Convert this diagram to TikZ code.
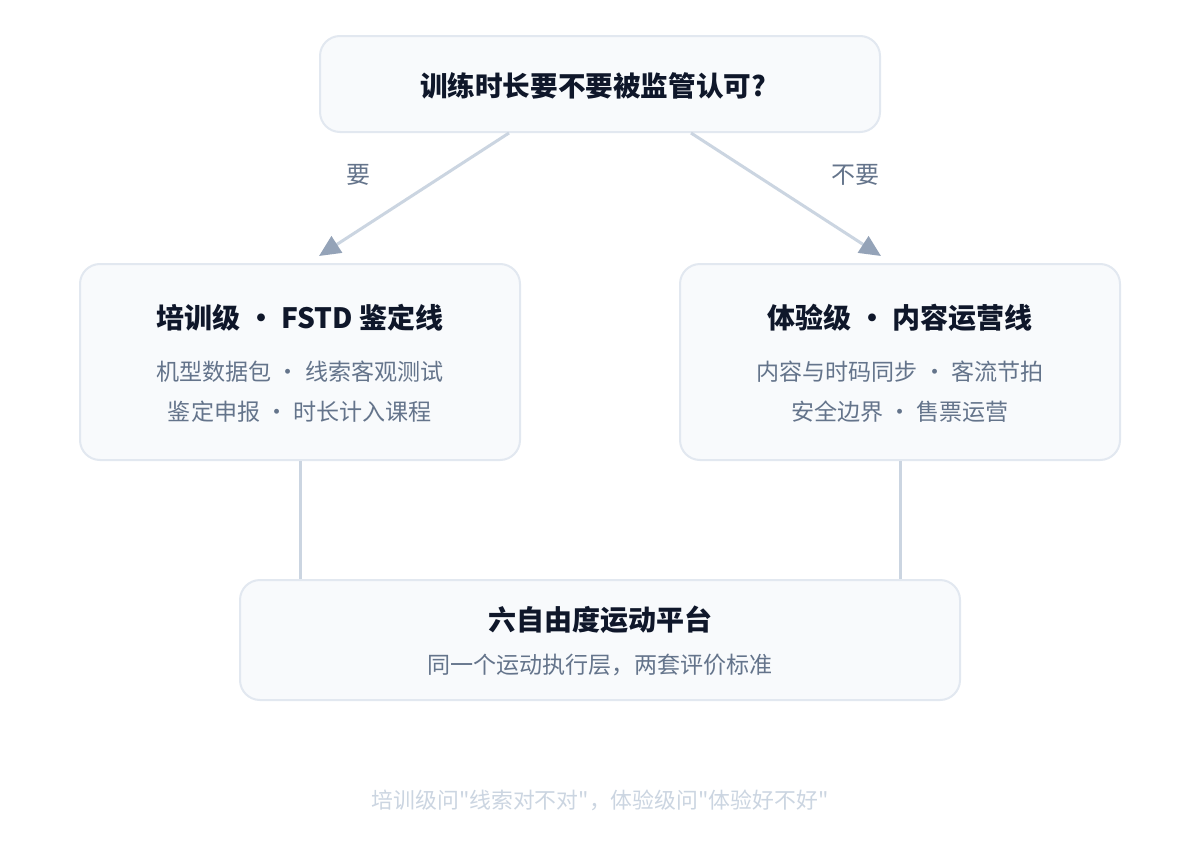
\documentclass[tikz,border=0pt]{standalone}
\usepackage{fontspec}
\setmainfont{Noto Sans CJK SC}
\newfontfamily\cjk{Noto Sans CJK SC}
\usetikzlibrary{arrows.meta,calc}
\definecolor{boxfill}{HTML}{F8FAFC}
\definecolor{boxline}{HTML}{E2E8F0}
\definecolor{conn}{HTML}{CBD5E1}
\definecolor{tipc}{HTML}{94A3B8}
\definecolor{titlec}{HTML}{0F172A}
\definecolor{subc}{HTML}{64748B}
\definecolor{footc}{HTML}{CBD5E1}
\tikzset{
  card/.style={draw=boxline, line width=1.5pt, fill=boxfill, rounded corners=15pt, inner sep=0pt},
  ttl/.style={text=titlec, font=\cjk\fontsize{21}{25}\selectfont\bfseries, inner sep=0pt},
  subt/.style={text=subc, font=\cjk\fontsize{17.3}{21}\selectfont, inner sep=0pt},
  lbl/.style={text=subc, font=\cjk\fontsize{18}{22}\selectfont, inner sep=0pt},
  foot/.style={text=footc, font=\cjk\fontsize{16.4}{20}\selectfont, inner sep=0pt},
  link/.style={draw=conn, line width=2.25pt},
  arrowlink/.style={link, -{Triangle[length=16pt,width=14.5pt,color=tipc]}, shorten >=0pt}
}
\begin{document}
\begin{tikzpicture}[x=0.75pt,y=-0.75pt]
\useasboundingbox (0,0) rectangle (1200,860);
\fill[white] (0,0) rectangle (1200,860);
% boxes
\node[card, minimum width=420pt, minimum height=72pt] (top) at (600,84) {};
\node[card, minimum width=330pt, minimum height=147pt] (left) at (300,362) {};
\node[card, minimum width=330pt, minimum height=147pt] (right) at (900,362) {};
\node[card, minimum width=540pt, minimum height=90pt] (bottom) at (600,640) {};
% texts
\node[ttl, font=\cjk\fontsize{20.7}{25}\selectfont\bfseries] (toptitle) at (593,86) {训练时长要不要被监管认可?};
\node[ttl] (ltitle) at (300,318) {培训级 · FSTD 鉴定线};
\node[subt] (lsub1) at (300,372) {机型数据包 · 线索客观测试};
\node[subt] (lsub2) at (300,412) {鉴定申报 · 时长计入课程};
\node[ttl] (rtitle) at (900,318) {体验级 · 内容运营线};
\node[subt] (rsub1) at (900,372) {内容与时码同步 · 客流节拍};
\node[subt] (rsub2) at (900,412) {安全边界 · 售票运营};
\node[ttl] (btitle) at (600,620) {六自由度运动平台};
\node[subt] (bsub) at (600,665) {同一个运动执行层，两套评价标准};
\node[foot] (footer) at (600,800) {培训级问"线索对不对"，体验级问"体验好不好"};
% connectors
\coordinate (ls) at ($(top.south west)+(190,0)$);
\coordinate (rs) at ($(top.south east)+(-190,0)$);
\coordinate (le) at (319,256);
\coordinate (re) at (881,256);
\draw[arrowlink] (ls) -- (le);
\draw[arrowlink] (rs) -- (re);
\node[lbl] (yes) at (358,175) {要};
\node[lbl] (no) at (855,175) {不要};
\draw[link] (left.south) -- (left.south |- bottom.north);
\draw[link] (right.south) -- (right.south |- bottom.north);
\end{tikzpicture}
\end{document}
